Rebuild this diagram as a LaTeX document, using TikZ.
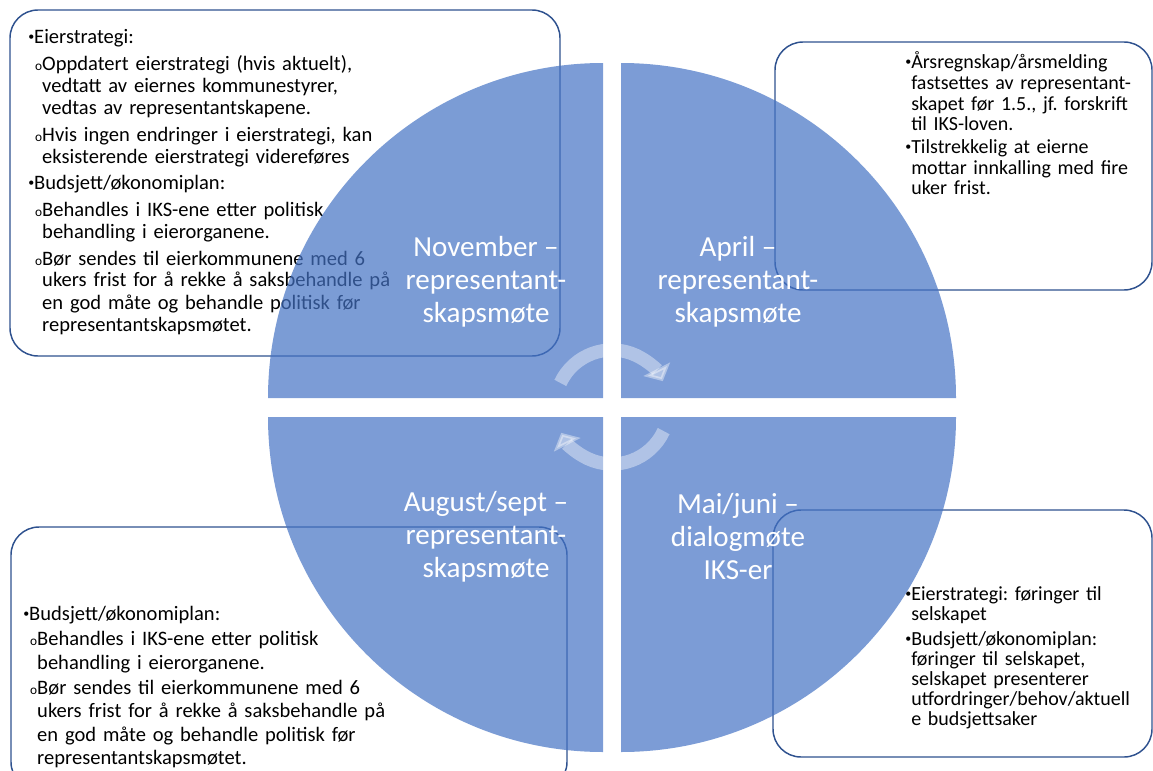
\documentclass[tikz,border=0pt]{standalone}
\usepackage{fontspec}
\setmainfont{Carlito}
\usepackage[HTML]{xcolor}
\usepackage{tikz}
\usetikzlibrary{arrows.meta}
\frenchspacing

\definecolor{quadblue}{HTML}{4472C4}
\definecolor{boxblue}{HTML}{2F528F}

% bullets for the two list levels
\newcommand{\bulletA}{\raisebox{2.2pt}{\fontsize{9}{9}\selectfont •}}
\newcommand{\bulletB}{{\fontsize{10}{10}\selectfont o}}
\newcommand{\itemA}[1]{\par\leftskip=0pt\setbox0=\hbox{\bulletA}\hangindent=\wd0\hangafter=1\noindent\box0 #1\par}
\newcommand{\itemB}[1]{\par\leftskip=5.2pt\setbox0=\hbox{\bulletB}\hangindent=\wd0\hangafter=1\noindent\box0 #1\par}

\begin{document}
\begin{tikzpicture}[
    x=0.75pt, y=-0.75pt, % one unit is one pixel of the 1153x771 page
    quarter/.style={fill=quadblue, fill opacity=0.7},
    infobox/.style={draw=boxblue, line width=1.1pt, rounded corners=21pt, fill=white},
    boxtext/.style={anchor=base west, inner sep=0pt, text width=330pt, align=left},
    monthlabel/.style={text=white, align=center, inner sep=0pt,
        font=\fontsize{21.8}{24.75}\selectfont},
    cyclearrow/.style={white, opacity=0.4, line width=10pt,
        -{Triangle[width=22pt,length=10pt]}}
]
    \useasboundingbox (0,0) rectangle (1153,771);

    % 1. The four text boxes (drawn first, the circle lies over them)
    \draw[infobox] (10,10) rectangle (560,356);
    \draw[infobox] (775,42) rectangle (1152,290);
    \draw[infobox] (11,527) rectangle (567,790);
    \draw[infobox] (773,510) rectangle (1152,757);

    \node (novtext) [boxtext, font=\fontsize{15.4}{16.5}\selectfont] at (28,17) {%
        \setlength{\parskip}{3.5pt}%
        \itemA{Eierstrategi:}
        \itemB{Oppdatert eierstrategi (hvis aktuelt),\newline vedtatt av eiernes kommunestyrer,\newline vedtas av representantskapene.}
        \itemB{Hvis ingen endringer i eierstrategi, kan\newline eksisterende eierstrategi videreføres}
        \itemA{Budsjett/økonomiplan:}
        \itemB{Behandles i IKS-ene etter politisk\newline behandling i eierorganene.}
        \itemB{Bør sendes til eierkommunene med 6\newline ukers frist for å rekke å saksbehandle på\newline en god måte og behandle politisk før\newline representantskapsmøtet.}};

    \node (aprtext) [boxtext, font=\fontsize{15}{15.5}\selectfont] at (905,46) {%
        \setlength{\parskip}{1.5pt}%
        \itemA{Årsregnskap/årsmelding\newline fastsettes av representant-\newline skapet før 1.5., jf. forskrift\newline til IKS-loven.}
        \itemA{Tilstrekkelig at eierne\newline mottar innkalling med fire\newline uker frist.}};

    \node (augtext) [boxtext, font=\fontsize{15.4}{17.5}\selectfont] at (23,595) {%
        \setlength{\parskip}{1.5pt}%
        \itemA{Budsjett/økonomiplan:}
        \itemB{Behandles i IKS-ene etter politisk\newline behandling i eierorganene.}
        \itemB{Bør sendes til eierkommunene med 6\newline ukers frist for å rekke å saksbehandle på\newline en god måte og behandle politisk før\newline representantskapsmøtet.}};

    \node (maitext) [boxtext, font=\fontsize{15}{15}\selectfont] at (905,576) {%
        \setlength{\parskip}{3.5pt}%
        \itemA{Eierstrategi: føringer til\newline selskapet}
        \itemA{Budsjett/økonomiplan:\newline føringer til selskapet,\newline selskapet presenterer\newline utfordringer/behov/aktuell\newline e budsjettsaker}};

    % 2. The circle, cut in four quarters
    \coordinate (hub) at (612,407);
    \fill[quarter] (603,398) -- (268,398) arc[start angle=180, end angle=270, radius=335] -- cycle;
    \fill[quarter] (621,398) -- (621,63) arc[start angle=270, end angle=360, radius=335] -- cycle;
    \fill[quarter] (621,417) -- (956,417) arc[start angle=0, end angle=90, radius=335] -- cycle;
    \fill[quarter] (603,417) -- (603,752) arc[start angle=90, end angle=180, radius=335] -- cycle;

    % 3. The month labels
    \node (nov) [monthlabel] at (486,282) {November –\\representant-\\skapsmøte};
    \node (apr) [monthlabel] at (738,282) {April –\\representant-\\skapsmøte};
    \node (aug) [monthlabel] at (486,537) {August/sept –\\representant-\\skapsmøte};
    \node (mai) [monthlabel] at (738,537) {Mai/juni –\\dialogmøte\\IKS-er};

    % 4. The two turning arrows round the hub
    \draw[cyclearrow] (hub) ++(205:57) arc[start angle=205, end angle=333, radius=57];
    \draw[cyclearrow] (hub) ++(25:57) arc[start angle=25, end angle=153, radius=57];

\end{tikzpicture}
\end{document}
